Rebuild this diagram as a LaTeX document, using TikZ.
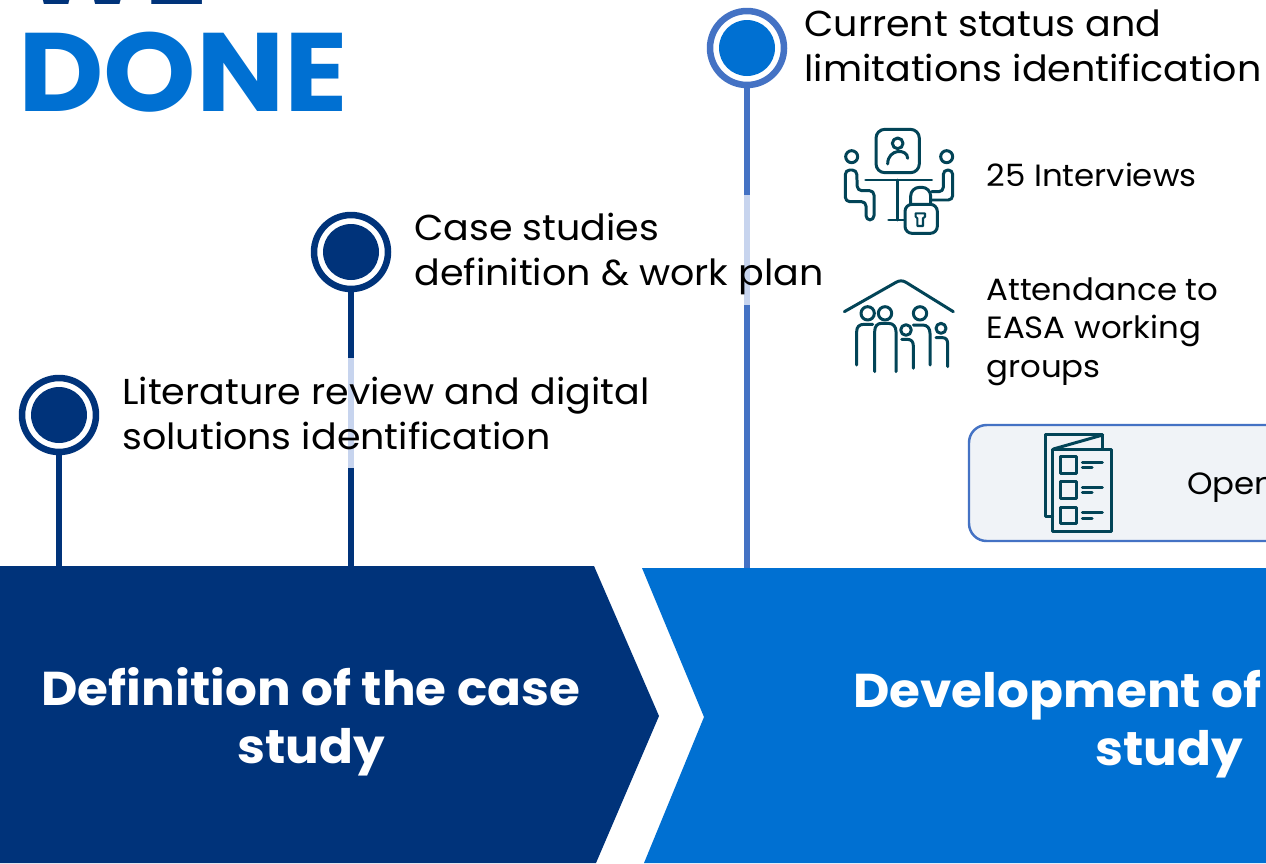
\documentclass[tikz,border=0pt]{standalone}
\usepackage{fontspec}
\setmainfont[FakeStretch=1.055]{Poppins}
\usetikzlibrary{calc}
\definecolor{navy}{HTML}{00337A}
\definecolor{azure}{HTML}{0070D2}
\definecolor{ringblue}{HTML}{4472C4}
\definecolor{paleblue}{HTML}{C7D4EE}
\definecolor{panel}{HTML}{F0F3F7}
\definecolor{icon}{HTML}{024457}
\tikzset{
    x=0.02cm, y=-0.02cm,
    ring/.style={circle, draw=#1, fill=white, line width=3.7pt, minimum size=1.48cm, inner sep=0pt},
    dot/.style={circle, fill=#1, minimum size=1.12cm, inner sep=0pt},
    stem/.style={line width=2.9pt, draw=#1},
    point/.style={anchor=base west, align=left, inner sep=0pt, font=\fontsize{20.5}{25.5}\selectfont},
    small/.style={anchor=base west, align=left, inner sep=0pt, font=\fontsize{17.5}{21.9}\selectfont},
    phase/.style={anchor=base, inner sep=0pt, text=white, font=\fontsize{27}{33}\selectfont\bfseries},
    heading/.style={anchor=base west, inner sep=0pt, font=\fontsize{63.5}{70}\selectfont\bfseries},
    glyph/.style={draw=icon, line width=1.7pt, line cap=round, line join=round},
    zoomed/.style={x=0.00667cm, y=-0.00667cm}
}
\begin{document}
\begin{tikzpicture}
    \path[use as bounding box, clip] (0,0) rectangle (1266,863);
    \fill[white] (0,0) rectangle (1266,863);

    % heading
    \node[heading, text=navy] (we) at (20,4) {WE};
    \node[heading, text=azure] (done) at (18,111) {DONE};

    % phases
    \fill[navy] (0,566) -- (594,566) -- (659,716) -- (596,863) -- (0,863) -- cycle;
    \fill[azure] (642,568) -- (1266,568) -- (1266,863) -- (644,863) -- (704,717) -- cycle;
    \node[phase] (defa) at (311,705) {Definition of the case};
    \node[phase] (defb) at (311,763) {study};
    \node[phase, anchor=base west] (deva) at (853,707) {Development of};
    \node[phase] (devb) at (1169,765) {study};

    % milestones
    \coordinate (litend) at (59,566);
    \coordinate (caseend) at (351,566);
    \coordinate (curend) at (747,568);
    \node[ring=navy] (litring) at (59,415) {};
    \node[ring=navy] (casering) at (351,252) {};
    \node[ring=ringblue] (curring) at (747,48) {};
    \node[dot=navy] (litdot) at (litring) {};
    \node[dot=navy] (casedot) at (casering) {};
    \node[dot=azure] (curdot) at (curring) {};
    \draw[stem=navy] (litring.south) -- (litend);
    \draw[stem=navy] (casering.south) -- (caseend);
    \draw[stem=ringblue] (curring.south) -- (curend);
    \coordinate (casea) at (351,358);
    \coordinate (caseb) at (351,468);
    \coordinate (cura) at (747,195);
    \coordinate (curb) at (747,305);
    \draw[stem=paleblue] (casea) -- (caseb);
    \draw[stem=paleblue] (cura) -- (curb);

    \node[point] (littext) at (122,449) {Literature review and digital\\solutions identification};
    \node[point] (casetext) at (414,285) {Case studies\\definition \& work plan};
    \node[point] (curtext) at (804,81) {Current status and\\limitations identification};

    % activities
    \node[small] (interviews) at (986,186) {25 Interviews};
    \node[small] (easa) at (986,377) {Attendance to\\EASA working\\groups};
    \draw[ringblue, fill=panel, line width=1.4pt, rounded corners=10pt] (969,425) rectangle (1300,541);
    \node[small] (open) at (1187,494) {Open};

    % interviews icon
    \begin{scope}[shift={(830,120)}, zoomed]
        \draw[glyph, rounded corners=5pt] (138,28) rectangle (268,158);
        \draw[glyph] (203,70) circle (16);
        \draw[glyph] (173,132) .. controls (173,85) and (233,85) .. (233,115);
        \draw[glyph] (65,110) circle (18);
        \draw[glyph] (350,110) circle (18);
        \draw[glyph, rounded corners=2.5pt] (46,150) -- (80,150) -- (82,212) -- (132,212) -- (132,300) -- (108,300) -- (108,245) -- (46,245) -- cycle;
        \draw[glyph, rounded corners=2.5pt] (305,215) -- (340,215) -- (340,150) -- (368,150) -- (368,240) -- (305,240);
        \draw[glyph] (107,180) -- (305,180);
        \draw[glyph] (203,180) -- (203,300);
        \draw[glyph] (176,300) -- (225,300);
        \draw[glyph, rounded corners=5pt] (242,253) -- (242,202) -- (302,202) -- (302,253);
        \draw[glyph, fill=white, rounded corners=4pt] (225,253) rectangle (322,340);
        \draw[glyph, line width=1.2pt] (262,318) -- (262,295) -- (257,290) -- (257,280) -- (285,280) -- (285,290) -- (279,295) -- (279,318) -- cycle;
    \end{scope}

    % working groups icon
    \begin{scope}[shift={(830,270)}, zoomed]
        \draw[glyph] (43,125) -- (198,37) .. controls (208,31) and (218,31) .. (228,37) -- (370,125);
        \draw[glyph] (113,130) circle (20);
        \draw[glyph] (165,130) circle (20);
        \draw[glyph] (228,180) circle (16);
        \draw[glyph] (270,130) circle (20);
        \draw[glyph] (333,175) circle (15);
        \draw[glyph] (80,285) -- (80,185) .. controls (80,170) and (88,163) .. (102,163) -- (128,163);
        \draw[glyph] (134,305) -- (134,185) .. controls (134,168) and (142,160) .. (155,160) -- (175,160) .. controls (190,160) and (198,170) .. (198,185) -- (198,305);
        \draw[glyph] (215,208) -- (232,208) .. controls (244,208) and (250,215) .. (250,228) -- (250,295);
        \draw[glyph] (250,165) -- (278,165) .. controls (292,165) and (300,175) .. (300,190) -- (300,285);
        \draw[glyph] (318,203) -- (338,203) .. controls (348,203) and (353,210) .. (353,222) -- (353,290);
    \end{scope}

    % checklist icon
    \begin{scope}[shift={(960,415)}, zoomed]
        \draw[glyph] (278,303) -- (255,303) -- (255,58) -- (428,58) -- (428,102);
        \draw[glyph] (280,102) -- (428,60);
        \draw[glyph] (278,103) rectangle (453,350);
        \foreach \ytop/\yone/\ytwo in {125/141/158, 200/216/233, 276/293/310}{
            \draw[glyph] (300,\ytop) rectangle (350,\ytop+50);
            \draw[glyph] (367,\yone) -- (427,\yone);
            \draw[glyph] (367,\ytwo) -- (396,\ytwo);
        }
    \end{scope}
\end{tikzpicture}
\end{document}
